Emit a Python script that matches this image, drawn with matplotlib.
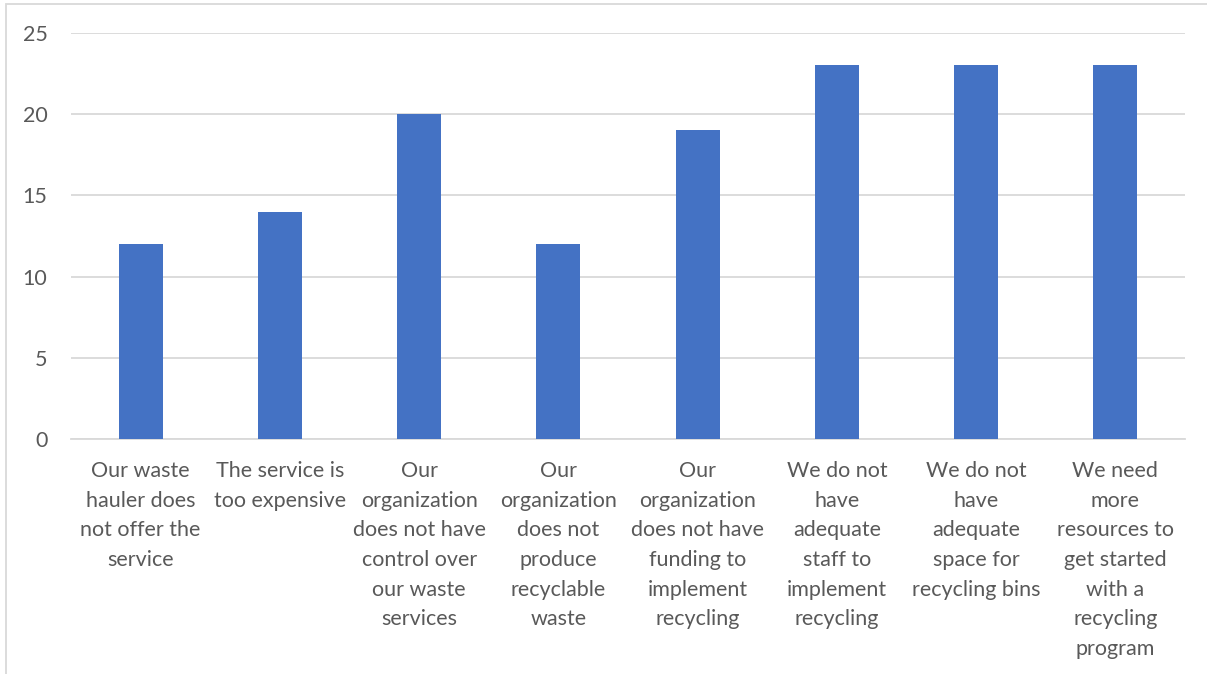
import matplotlib.pyplot as plt
from matplotlib.patches import Rectangle

categories = [
    "Our waste\nhauler does\nnot offer the\nservice",
    "The service is\ntoo expensive",
    "Our\norganization\ndoes not have\ncontrol over\nour waste\nservices",
    "Our\norganization\ndoes not\nproduce\nrecyclable\nwaste",
    "Our\norganization\ndoes not have\nfunding to\nimplement\nrecycling",
    "We do not\nhave\nadequate\nstaff to\nimplement\nrecycling",
    "We do not\nhave\nadequate\nspace for\nrecycling bins",
    "We need\nmore\nresources to\nget started\nwith a\nrecycling\nprogram",
]
values = [12, 14, 20, 12, 19, 23, 23, 23]
yticks = [0, 5, 10, 15, 20, 25]

plt.rcParams["font.family"] = ["Lato", "DejaVu Sans"]
text_color = "#595959"

fig = plt.figure(figsize=(12.07, 6.74), dpi=100)
ax = fig.add_axes([71 / 1207, 1 - 439 / 674, (1185 - 71) / 1207, (439 - 33) / 674])

x = list(range(len(categories)))
ax.bar(x, values, width=0.315, color="#4472C4", zorder=3)

ax.set_xlim(-0.5, len(categories) - 0.5)
ax.set_ylim(0, 25)
ax.set_yticks(yticks)
ax.set_xticks(x)
ax.set_xticklabels(categories, fontsize=15.5, color=text_color, linespacing=1.6)
ax.tick_params(axis="y", labelsize=15.5, labelcolor=text_color, length=0, pad=17)
ax.tick_params(axis="x", length=0, pad=16)
ax.grid(axis="y", color="#D9D9D9", linewidth=1.3, zorder=0)
for s in ["top", "right", "left"]:
    ax.spines[s].set_visible(False)
ax.spines["bottom"].set_color("#D9D9D9")
ax.spines["bottom"].set_linewidth(1.3)

# chart area border
fig.patches.append(Rectangle((6 / 1207, -0.1), 1.2, 1 - 4 / 674 + 0.1,
                             transform=fig.transFigure, fill=False,
                             edgecolor="#D9D9D9", linewidth=1.3))

fig.savefig("out.png", dpi=100)
